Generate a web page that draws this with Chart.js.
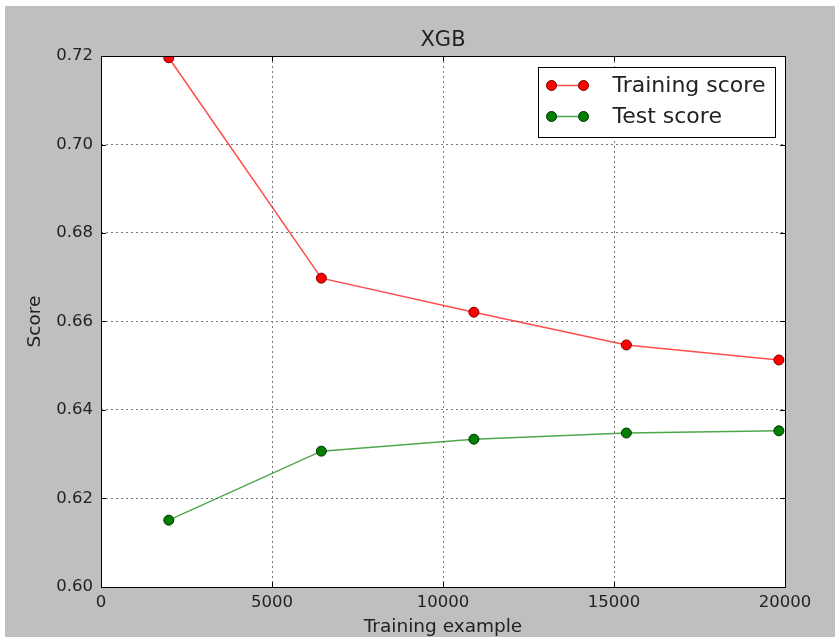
<!DOCTYPE html>
<html>
<head>
<meta charset="utf-8">
<script src="https://cdn.jsdelivr.net/npm/chart.js@4"></script>
<style>
  html, body { margin: 0; padding: 0; background: #fff; }
  #wrap { position: absolute; left: 5px; top: 6px; width: 830px; height: 631px; }
</style>
</head>
<body>
<div id="wrap"><canvas id="curve"></canvas></div>
<script>
// learning curve values
const trainSizes = [1982, 6443, 10903, 15362, 19822];
const trainScore = [0.7196, 0.6698, 0.6621, 0.6547, 0.6513];
const testScore = [0.6151, 0.6307, 0.6334, 0.6348, 0.6353];
const seriesNames = ['Training score', 'Test score'];
const xTicks = [0, 5000, 10000, 15000, 20000];
const yTicks = [0.60, 0.62, 0.64, 0.66, 0.68, 0.70, 0.72];

const FONT = 'DejaVu Sans';
const TEXT = '#222';

const toPoints = vals => vals.map((v, i) => ({ x: trainSizes[i], y: v }));

// gray figure background, white axes face
const bgPlugin = {
  id: 'bg',
  beforeDraw(chart) {
    const { ctx, chartArea: a } = chart;
    ctx.save();
    ctx.fillStyle = '#bfbfbf';
    ctx.fillRect(0, 0, chart.width, chart.height);
    ctx.fillStyle = '#fff';
    ctx.fillRect(a.left, a.top, a.right - a.left, a.bottom - a.top);
    ctx.restore();
  }
};

// black frame + inward ticks on all four sides, legend box
const framePlugin = {
  id: 'frame',
  afterDatasetsDraw(chart) {
    const { ctx, chartArea: a, scales } = chart;
    ctx.save();
    ctx.strokeStyle = '#000';
    ctx.lineWidth = 1;
    ctx.beginPath();
    scales.x.ticks.forEach(t => {
      const px = Math.round(scales.x.getPixelForValue(t.value)) + 0.5;
      ctx.moveTo(px, a.bottom); ctx.lineTo(px, a.bottom - 5);
      ctx.moveTo(px, a.top); ctx.lineTo(px, a.top + 5);
    });
    scales.y.ticks.forEach(t => {
      const py = Math.round(scales.y.getPixelForValue(t.value)) + 0.5;
      ctx.moveTo(a.left, py); ctx.lineTo(a.left + 5, py);
      ctx.moveTo(a.right, py); ctx.lineTo(a.right - 5, py);
    });
    ctx.stroke();
    ctx.strokeRect(Math.round(a.left) + 0.5, Math.round(a.top) + 0.5,
      Math.round(a.right - a.left), Math.round(a.bottom - a.top));

    // legend
    ctx.font = '22px "' + FONT + '"';
    const ds = chart.data.datasets;
    const textW = Math.max(...ds.map(d => ctx.measureText(d.label).width));
    const boxW = Math.round(74 + textW + 10);
    const boxH = 70;
    const bx = Math.round(a.right - 10 - boxW) + 0.5;
    const by = Math.round(a.top + 11) + 0.5;
    ctx.fillStyle = '#fff';
    ctx.fillRect(bx, by, boxW, boxH);
    ctx.strokeStyle = '#000';
    ctx.strokeRect(bx, by, boxW, boxH);
    ds.forEach((d, i) => {
      const cy = by + 18 + i * 31;
      const x0 = bx + 13, x1 = bx + 45;
      ctx.strokeStyle = d.borderColor;
      ctx.lineWidth = 1.5;
      ctx.beginPath(); ctx.moveTo(x0, cy); ctx.lineTo(x1, cy); ctx.stroke();
      [x0, x1].forEach(mx => {
        ctx.beginPath();
        ctx.arc(mx, cy, 5, 0, Math.PI * 2);
        ctx.fillStyle = d.pointBackgroundColor;
        ctx.fill();
        ctx.lineWidth = 1;
        ctx.strokeStyle = d.pointBorderColor;
        ctx.stroke();
      });
      ctx.fillStyle = TEXT;
      ctx.textBaseline = 'middle';
      ctx.textAlign = 'left';
      ctx.fillText(d.label, bx + 74, cy + 1);
    });
    ctx.restore();
  }
};

const ctx = document.getElementById('curve').getContext('2d');
const chart = new Chart(ctx, {
  type: 'line',
  data: {
    datasets: [{
      label: seriesNames[0],
      data: toPoints(trainScore),
      borderColor: 'rgba(255,0,0,0.7)',
      borderWidth: 1.5,
      pointRadius: 5,
      pointBackgroundColor: '#ff0000',
      pointBorderColor: '#700',
      pointBorderWidth: 1,
      tension: 0
    }, {
      label: seriesNames[1],
      data: toPoints(testScore),
      borderColor: 'rgba(0,128,0,0.7)',
      borderWidth: 1.5,
      pointRadius: 5,
      pointBackgroundColor: '#007f00',
      pointBorderColor: '#030',
      pointBorderWidth: 1,
      tension: 0
    }]
  },
  options: {
    responsive: true,
    maintainAspectRatio: false,
    animation: false,
    layout: { padding: { left: 0, right: 50, top: 0, bottom: 0 } },
    plugins: {
      legend: { display: false },
      tooltip: { enabled: false },
      title: {
        display: true,
        fullSize: false,
        text: 'XGB',
        color: TEXT,
        font: { family: FONT, size: 21, weight: 'normal', lineHeight: 1.2 },
        padding: { top: 22, bottom: 2.8 }
      }
    },
    scales: {
      x: {
        type: 'linear',
        min: 0,
        max: 20000,
        afterFit: s => { s.height = 50; },
        afterBuildTicks: s => { s.ticks = xTicks.map(v => ({ value: v })); },
        ticks: {
          color: TEXT,
          padding: 6,
          maxRotation: 0,
          font: { family: FONT, size: 16.5 },
          callback: v => String(v)
        },
        grid: { color: '#777', borderDash: [2, 3], drawTicks: false },
        border: { display: false, dash: [2, 3] },
        title: {
          display: true,
          text: 'Training example',
          color: TEXT,
          font: { family: FONT, size: 18.5 },
          padding: { top: 0, bottom: -1 }
        }
      },
      y: {
        min: 0.60,
        max: 0.72,
        afterFit: s => { s.width = 96; },
        afterBuildTicks: s => { s.ticks = yTicks.map(v => ({ value: v })); },
        ticks: {
          color: TEXT,
          padding: 8,
          font: { family: FONT, size: 16.5 },
          callback: v => v.toFixed(2)
        },
        grid: { color: '#777', drawTicks: false },
        border: { display: false, dash: [2, 3] },
        title: {
          display: true,
          text: 'Score',
          color: TEXT,
          font: { family: FONT, size: 18.5 },
          padding: { top: 19, bottom: 0 }
        }
      }
    }
  },
  plugins: [bgPlugin, framePlugin]
});
</script>
</body>
</html>
